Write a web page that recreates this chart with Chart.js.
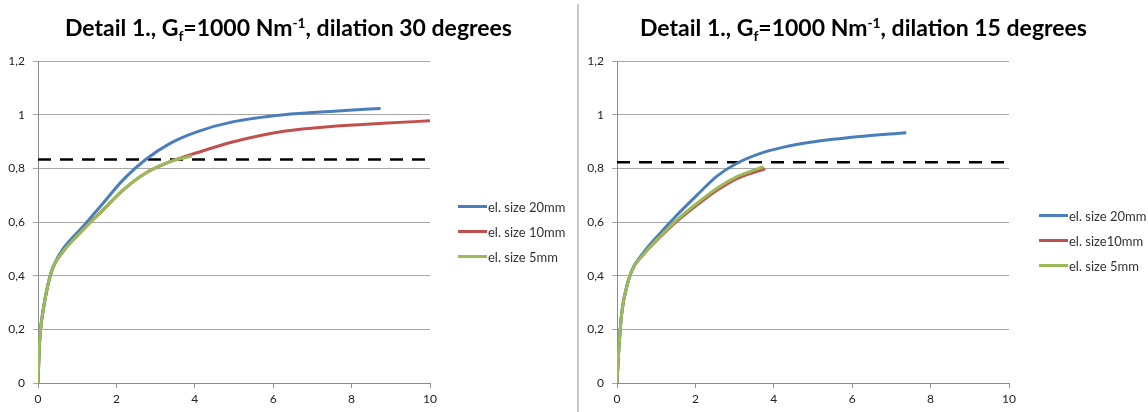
<!DOCTYPE html>
<html>
<head>
<meta charset="utf-8">
<script src="https://cdn.jsdelivr.net/npm/chart.js@4.4.1/dist/chart.umd.min.js"></script>
<style>
  html, body { margin: 0; padding: 0; background: #fff; }
  body { width: 1148px; height: 412px; position: relative; overflow: hidden; font-family: Lato, "Open Sans", sans-serif; }
  .panel { position: absolute; top: 0; height: 412px; }
  .panel canvas { position: absolute; left: 0; top: 0; }
  .title { position: absolute; left: 0; right: 0; top: 13px; text-align: center; font-weight: bold; font-size: 23px; color: #000; white-space: nowrap; }
  .title sub { font-size: 0.6em; vertical-align: -0.35em; line-height: 0; }
  .title sup { font-size: 0.6em; vertical-align: 0.6em; line-height: 0; }
  .legend { position: absolute; font-size: 13px; color: #333; }
  .legend div { height: 25px; display: flex; align-items: center; white-space: nowrap; }
  .legend i { display: inline-block; width: 29px; margin-right: 1px; }
  #sep { position: absolute; left: 577px; top: 4px; width: 2px; height: 408px; background: #c9c9c9; }
</style>
</head>
<body>
<div class="panel" id="pL" style="left:0;width:577px">
  <canvas id="cL" width="577" height="412"></canvas>
  <div class="title">Detail 1., G<sub>f</sub>=1000 Nm<sup>-1</sup>, dilation 30 degrees</div>
  <div class="legend" id="lL" style="left:458px;top:194px"></div>
</div>
<div id="sep"></div>
<div class="panel" id="pR" style="left:579px;width:569px">
  <canvas id="cR" width="569" height="412"></canvas>
  <div class="title">Detail 1., G<sub>f</sub>=1000 Nm<sup>-1</sup>, dilation 15 degrees</div>
  <div class="legend" id="lR" style="left:460px;top:203px"></div>
</div>
<script>
// dilation 30 degrees
const x20a = [0, 0.04, 0.13, 0.26, 0.38, 0.64, 1.15, 1.66, 2.17, 2.73, 3.37, 4.05, 4.99, 6.27, 7.54, 8.74];
const y20a = [0, 0.15, 0.27, 0.37, 0.43, 0.50, 0.583, 0.67, 0.757, 0.831, 0.893, 0.936, 0.974, 1.0, 1.013, 1.023];
const x10a = [0, 0.04, 0.13, 0.26, 0.38, 0.64, 1.15, 1.66, 2.17, 2.73, 3.37, 4.05, 4.99, 6.27, 7.54, 8.8, 10];
const y10a = [0, 0.15, 0.27, 0.37, 0.43, 0.49, 0.571, 0.645, 0.719, 0.781, 0.825, 0.858, 0.899, 0.938, 0.957, 0.968, 0.977];
const x5a = [0, 0.04, 0.13, 0.26, 0.38, 0.64, 1.15, 1.66, 2.17, 2.73, 3.37, 3.92];
const y5a = [0, 0.15, 0.27, 0.37, 0.43, 0.49, 0.571, 0.645, 0.719, 0.781, 0.825, 0.846];
const limitA = 0.833;

// dilation 15 degrees
const x20b = [0, 0.04, 0.12, 0.25, 0.38, 0.68, 1.1, 1.53, 2.04, 2.55, 3.06, 3.66, 4.25, 4.93, 5.5, 6.12, 7.38];
const y20b = [0, 0.11, 0.26, 0.36, 0.42, 0.487, 0.558, 0.626, 0.70, 0.771, 0.819, 0.856, 0.879, 0.897, 0.908, 0.918, 0.933];
const x10b = [0, 0.04, 0.12, 0.25, 0.38, 0.68, 1.1, 1.53, 2.04, 2.55, 3.06, 3.78];
const y10b = [0, 0.11, 0.26, 0.36, 0.42, 0.48, 0.544, 0.603, 0.663, 0.718, 0.762, 0.798];
const x5b = [0, 0.04, 0.12, 0.25, 0.38, 0.68, 1.1, 1.53, 2.04, 2.55, 3.06, 3.74];
const y5b = [0, 0.11, 0.26, 0.36, 0.42, 0.48, 0.546, 0.608, 0.67, 0.726, 0.769, 0.806];
const limitB = 0.823;

const xRange = [0, 10];
const labelsA = ['el. size 20mm', 'el. size 10mm', 'el. size 5mm'];
const labelsB = ['el. size 20mm', 'el. size10mm', 'el. size 5mm'];
const colors = ['#4a7ebb', '#c0504d', '#9bbb59'];

const pts = (xs, ys) => xs.map((x, i) => ({ x, y: ys[i] }));
const tickFont = { family: 'Lato, "Open Sans", sans-serif', size: 12 };
const axisGray = '#8c8c8c';

function draw(canvas, legend, labels, series, limit) {
    const sets = series.map((s, i) => ({
        label: labels[i],
        data: pts(s[0], s[1]),
        borderColor: colors[i],
        backgroundColor: colors[i],
        borderWidth: 3,
        order: [1, 2, 0][i],
    }));
    sets.push({
        label: 'limit',
        data: pts(xRange, [limit, limit]),
        borderColor: '#000',
        borderWidth: 2.5,
        borderDash: [13, 9],
        order: 3,
    });
    const chart = new Chart(canvas, {
        type: 'line',
        data: { datasets: sets },
        options: {
            responsive: false,
            animation: false,
            layout: { padding: { top: 61, right: canvas.width - 430, left: 0, bottom: 0 } },
            plugins: { legend: { display: false }, tooltip: { enabled: false } },
            elements: {
                point: { radius: 0 },
                line: { cubicInterpolationMode: 'monotone', fill: false }
            },
            scales: {
                x: {
                    type: 'linear', min: xRange[0], max: xRange[1],
                    ticks: { stepSize: 2, font: tickFont, color: '#222', padding: 4 },
                    grid: { drawOnChartArea: false, tickLength: 5, color: axisGray },
                    border: { color: axisGray },
                    afterFit: s => { s.height = 29; }
                },
                y: {
                    min: 0, max: 1.2,
                    ticks: {
                        stepSize: 0.2, font: tickFont, color: '#222', padding: 8,
                        callback: v => String(Math.round(v * 10) / 10).replace('.', ',')
                    },
                    grid: { color: '#a6a6a6', tickLength: 5 },
                    border: { color: axisGray },
                    afterFit: s => { s.width = 38; }
                }
            }
        }
    });
    chart.data.datasets.filter(d => !d.borderDash).forEach(d => {
        const row = document.createElement('div');
        const line = document.createElement('i');
        line.style.background = d.borderColor;
        line.style.height = d.borderWidth + 'px';
        row.appendChild(line);
        row.appendChild(document.createTextNode(d.label));
        legend.appendChild(row);
    });
}

draw(document.getElementById('cL'), document.getElementById('lL'), labelsA,
    [[x20a, y20a], [x10a, y10a], [x5a, y5a]], limitA);
draw(document.getElementById('cR'), document.getElementById('lR'), labelsB,
    [[x20b, y20b], [x10b, y10b], [x5b, y5b]], limitB);
</script>
</body>
</html>
